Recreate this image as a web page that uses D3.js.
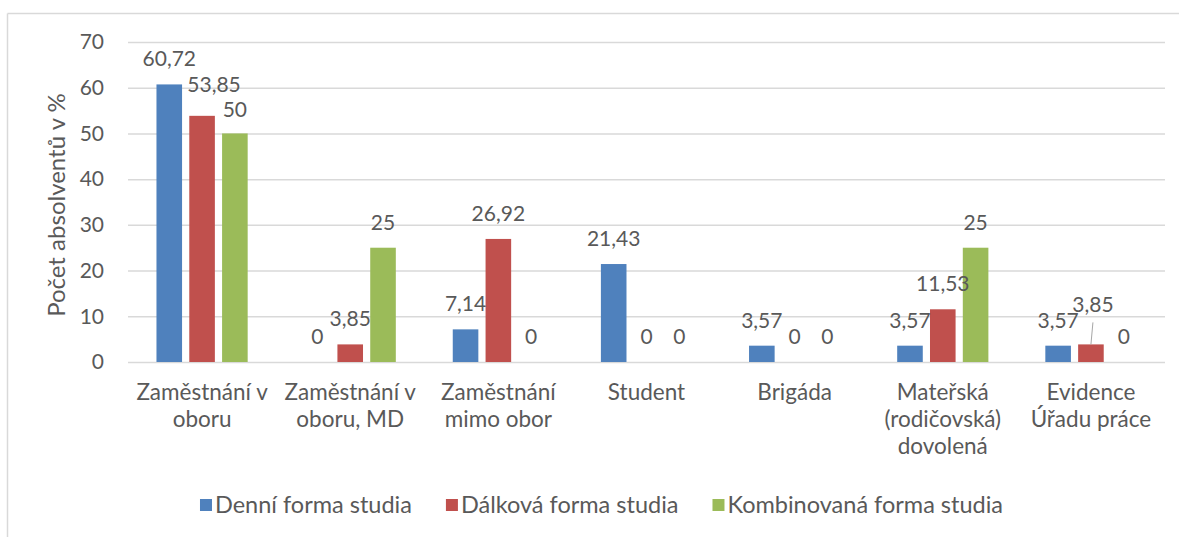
<!DOCTYPE html>
<html>
<head>
<meta charset="utf-8">
<script src="https://cdn.jsdelivr.net/npm/d3@7"></script>
<style>
  html, body { margin: 0; padding: 0; background: #fff; }
  svg { display: block; }
  text { font-family: Lato, "Open Sans", sans-serif; fill: #595959; }
</style>
</head>
<body>
<svg id="chart" width="1179" height="537"></svg>
<script>
// ---- data ----
const categories = [
  "Zaměstnání v\noboru",
  "Zaměstnání v\noboru, MD",
  "Zaměstnání\nmimo obor",
  "Student",
  "Brigáda",
  "Mateřská\n(rodičovská)\ndovolená",
  "Evidence\nÚřadu práce"
];
const seriesNames = ["Denní forma studia", "Dálková forma studia", "Kombinovaná forma studia"];
const denni       = [60.72, 0,    7.14,  21.43, 3.57, 3.57,  3.57];
const dalkova     = [53.85, 3.85, 26.92, 0,     0,    11.53, 3.85];
const kombinovana = [50,    25,   0,     0,     0,    25,    0];
const yTicks = [0, 10, 20, 30, 40, 50, 60, 70];
const yTitle = "Počet absolventů v %";

// ---- style / layout ----
const colors = ["#4F81BD", "#C0504D", "#9BBB59"];
// label nudges "series-category" -> [dx, dy, leader]
const nudges = { "1-0": [12, -6, false], "2-0": [0, 2, false], "1-6": [2, -14, true] };

const svg = d3.select("#chart");
const W = 1179, H = 537;
const plot = { left: 128, right: 1165, top: 42, bottom: 362 };

svg.append("line").attr("x1", 7.5).attr("x2", W).attr("y1", 13.5).attr("y2", 13.5)
  .attr("stroke", "#d9d9d9").attr("stroke-width", 1.5);
svg.append("line").attr("x1", 7.5).attr("x2", 7.5).attr("y1", 13.5).attr("y2", H)
  .attr("stroke", "#d9d9d9").attr("stroke-width", 1.5);

const y = d3.scaleLinear().domain([0, 70]).range([plot.bottom, plot.top]);
const x0 = d3.scaleBand().domain(d3.range(categories.length)).range([plot.left, plot.right]).padding(0);
const x1 = d3.scaleBand().domain(d3.range(seriesNames.length)).range([-45.6, 45.6]).paddingInner(0.22).paddingOuter(0);

const yAxis = d3.axisLeft(y).tickValues(yTicks).tickSize(-(plot.right - plot.left)).tickPadding(24).tickFormat(d3.format("d"));
const gAxis = svg.append("g").attr("transform", `translate(${plot.left},0)`).call(yAxis);
gAxis.select(".domain").remove();
gAxis.selectAll(".tick line").attr("stroke", "#d9d9d9").attr("stroke-width", 1.5);
gAxis.selectAll(".tick text").attr("font-size", 21).attr("fill", "#595959")
  .style("font-family", "Lato, 'Open Sans', sans-serif");

svg.append("text")
  .attr("transform", `translate(65,205) rotate(-90)`)
  .attr("text-anchor", "middle")
  .attr("font-size", 24)
  .text(yTitle);

const seriesData = [denni, dalkova, kombinovana];

seriesData.forEach((vals, s) => {
  svg.append("g").selectAll("rect").data(vals).join("rect")
    .attr("x", (d, i) => x0(i) + x0.bandwidth() / 2 + x1(s))
    .attr("width", x1.bandwidth())
    .attr("y", d => y(d))
    .attr("height", d => y(0) - y(d))
    .attr("fill", colors[s]);
});

const fmt = v => String(v).replace(".", ",");
seriesData.forEach((vals, s) => {
  vals.forEach((v, i) => {
    const cx = x0(i) + x0.bandwidth() / 2 + x1(s) + x1.bandwidth() / 2;
    const nd = nudges[`${s}-${i}`] || [0, 0, false];
    const by = y(v) - 18 + nd[1];
    svg.append("text")
      .attr("x", cx + nd[0]).attr("y", by)
      .attr("text-anchor", "middle")
      .attr("font-size", 21)
      .text(fmt(v));
    if (nd[2]) {
      svg.append("line")
        .attr("x1", cx + nd[0]).attr("y1", by + 10)
        .attr("x2", cx).attr("y2", y(v))
        .attr("stroke", "#a6a6a6").attr("stroke-width", 1);
    }
  });
});

categories.forEach((c, i) => {
  const t = svg.append("text")
    .attr("x", x0(i) + x0.bandwidth() / 2)
    .attr("y", 400)
    .attr("text-anchor", "middle")
    .attr("font-size", 22.5);
  c.split("\n").forEach((line, k) => {
    t.append("tspan").attr("x", x0(i) + x0.bandwidth() / 2).attr("dy", k === 0 ? 0 : 27).text(line);
  });
});

const legend = svg.append("g");
let lx = 0;
const gap = 34;
seriesNames.forEach((n, s) => {
  const g = legend.append("g").attr("transform", `translate(${lx},0)`);
  g.append("rect").attr("x", 0).attr("y", -6).attr("width", 12).attr("height", 12).attr("fill", colors[s]);
  const tx = g.append("text").attr("x", 15).attr("y", 0).attr("dy", "0.35em").attr("font-size", 23.5).text(n);
  lx += 15 + tx.node().getComputedTextLength() + gap;
});
const totalW = lx - gap;
legend.attr("transform", `translate(${(197 + 1006) / 2 - totalW / 2},505)`);
</script>
</body>
</html>
